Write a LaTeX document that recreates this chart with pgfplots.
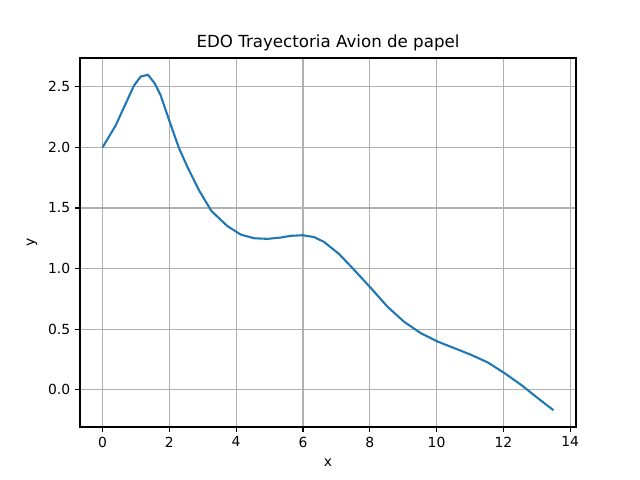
\documentclass[border=0pt]{standalone}
\usepackage{fontspec}
\setmainfont{DejaVu Sans}
\usepackage{pgfplots}
\pgfplotsset{compat=1.18}
\definecolor{mplblue}{HTML}{1F77B4}
\definecolor{mplgrid}{HTML}{B0B0B0}

\begin{document}
\begin{tikzpicture}
	\path[use as bounding box] (-57.6pt,-38.16pt) rectangle (403.2pt,307.44pt);
	\begin{axis}[
		at={(0,0)}, anchor=south west,
		scale only axis,
		width=357.12pt, height=265.68pt,
		xmin=-0.675, xmax=14.175,
		ymin=-0.3085, ymax=2.7385,
		xtick={0,2,...,14},
		ytick={0,0.5,...,2.5},
		yticklabel style={/pgf/number format/.cd, fixed, fixed zerofill, precision=1},
		/pgf/number format/assume math mode=true,
		ticklabel style={font=\fontsize{10}{12}\selectfont},
		tick align=outside,
		tick pos=left,
		major tick length=3.5pt,
		tick style={black, line width=0.8pt},
		axis line style={black, line width=0.8pt},
		grid=major,
		major grid style={mplgrid, line width=0.8pt},
		title={EDO Trayectoria Avion de papel},
		title style={font=\fontsize{12}{14}\selectfont, yshift=-4.5pt},
		xlabel={x}, ylabel={y},
		label style={font=\fontsize{10}{12}\selectfont},
		xlabel style={yshift=-1.5pt},
		ylabel style={yshift=1pt},
	]
		\addplot[mplblue, line width=1.5pt] coordinates {
			(0,2.00) (0.39,2.18) (0.94,2.51) (1.14,2.585) (1.36,2.60) (1.56,2.53)
			(1.74,2.43) (2.0,2.22) (2.28,2.0) (2.54,1.84) (2.89,1.645) (3.26,1.475)
			(3.74,1.35) (4.14,1.28) (4.54,1.25) (4.94,1.245) (5.34,1.256) (5.63,1.27)
			(5.99,1.275) (6.33,1.26) (6.63,1.22) (7.08,1.12) (7.53,0.99) (8.03,0.84)
			(8.53,0.685) (9.03,0.56) (9.53,0.466) (10.03,0.397) (10.53,0.343)
			(11.03,0.288) (11.53,0.225) (12.03,0.137) (12.53,0.04) (13.03,-0.07)
			(13.5,-0.17)
		};
	\end{axis}
\end{tikzpicture}
\end{document}
